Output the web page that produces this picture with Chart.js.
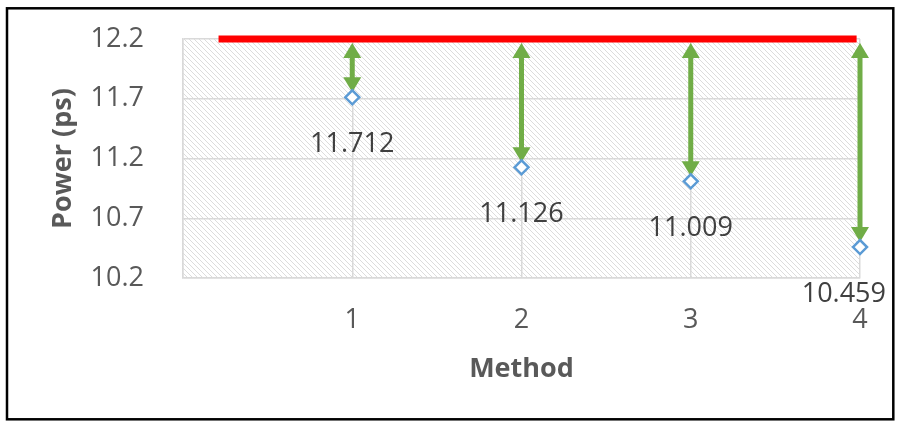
<!DOCTYPE html>
<html>
<head>
<meta charset="utf-8">
<script src="https://cdn.jsdelivr.net/npm/chart.js@4"></script>
<style>
  html, body { margin: 0; padding: 0; background: #ffffff; }
  #wrap { width: 899px; height: 428px; position: relative; }
</style>
</head>
<body>
<div id="wrap"><canvas id="c" width="899" height="428"></canvas></div>
<script>
// Measured power for each method, and the reference level they are compared to
const methods = [1, 2, 3, 4];
const powerValues = [11.712, 11.126, 11.009, 10.459];
const referencePower = 12.2;
const referenceSpan = [0.21, 3.98];
const yTickValues = [10.2, 10.7, 11.2, 11.7, 12.2];
const xTickValues = [0, 1, 2, 3, 4];

const FONT = '"Open Sans", "Segoe UI", "DejaVu Sans", sans-serif';
const GRID = '#d9d9d9';

// Light diagonal hatch used as the plot background
function makeHatch(ctx) {
  const t = document.createElement('canvas');
  t.width = 5; t.height = 5;
  const g = t.getContext('2d');
  g.fillStyle = '#ffffff';
  g.fillRect(0, 0, 5, 5);
  g.strokeStyle = '#dcdcdc';
  g.lineWidth = 1;
  g.beginPath();
  g.moveTo(-1, -1); g.lineTo(6, 6);
  g.moveTo(-1, 4); g.lineTo(1, 6);
  g.moveTo(4, -1); g.lineTo(6, 1);
  g.stroke();
  return ctx.createPattern(t, 'repeat');
}

const hatchPlugin = {
  id: 'hatch',
  beforeDraw(chart) {
    const { ctx, chartArea: a } = chart;
    ctx.save();
    ctx.fillStyle = makeHatch(ctx);
    ctx.fillRect(a.left, a.top, a.right - a.left, a.bottom - a.top);
    ctx.restore();
  }
};

// Double-headed arrows from the reference level down to each measurement
const arrowPlugin = {
  id: 'gapArrows',
  beforeDatasetsDraw(chart) {
    const { ctx, scales: { x, y } } = chart;
    const headLen = 15, headHalf = 9;
    ctx.save();
    ctx.fillStyle = '#70ad47';
    ctx.strokeStyle = '#70ad47';
    ctx.lineWidth = 5;
    methods.forEach((m, i) => {
      const px = x.getPixelForValue(m);
      const top = y.getPixelForValue(referencePower) + 4;
      const bot = y.getPixelForValue(powerValues[i]) - 5;
      ctx.beginPath();
      ctx.moveTo(px, top + headLen - 1);
      ctx.lineTo(px, bot - headLen + 1);
      ctx.stroke();
      ctx.beginPath();
      ctx.moveTo(px, top);
      ctx.lineTo(px + headHalf, top + headLen);
      ctx.lineTo(px - headHalf, top + headLen);
      ctx.closePath();
      ctx.fill();
      ctx.beginPath();
      ctx.moveTo(px, bot);
      ctx.lineTo(px + headHalf, bot - headLen);
      ctx.lineTo(px - headHalf, bot - headLen);
      ctx.closePath();
      ctx.fill();
    });
    ctx.restore();
  }
};

// Value labels under each marker, kept inside the frame
const labelPlugin = {
  id: 'valueLabels',
  afterDatasetsDraw(chart) {
    const { ctx, scales: { x, y } } = chart;
    ctx.save();
    ctx.font = '27px ' + FONT;
    ctx.fillStyle = '#404040';
    ctx.textAlign = 'center';
    ctx.textBaseline = 'middle';
    methods.forEach((m, i) => {
      const text = powerValues[i].toFixed(3);
      const w = ctx.measureText(text).width;
      let px = x.getPixelForValue(m);
      px = Math.min(px, 886 - w / 2);
      const py = y.getPixelForValue(powerValues[i]) + 47;
      ctx.fillText(text, px, py);
    });
    ctx.restore();
  }
};

const framePlugin = {
  id: 'frame',
  afterDraw(chart) {
    const { ctx } = chart;
    ctx.save();
    ctx.strokeStyle = '#000000';
    ctx.lineWidth = 2.5;
    ctx.strokeRect(7, 8.3, 886.3, 411);
    ctx.restore();
  }
};

new Chart(document.getElementById('c'), {
  type: 'scatter',
  data: {
    datasets: [
      {
        type: 'line',
        label: 'Reference',
        data: referenceSpan.map(v => ({ x: v, y: referencePower })),
        borderColor: '#ff0000',
        borderWidth: 7,
        pointRadius: 0,
        borderCapStyle: 'butt',
        clip: false,
        order: 2
      },
      {
        label: 'Power',
        data: methods.map((m, i) => ({ x: m, y: powerValues[i] })),
        pointStyle: 'rectRot',
        pointRadius: 7,
        pointBorderWidth: 2.5,
        pointBackgroundColor: '#ffffff',
        pointBorderColor: '#5b9bd5',
        clip: false,
        order: 1
      }
    ]
  },
  options: {
    responsive: false,
    animation: false,
    devicePixelRatio: 1,
    layout: { padding: { left: 0, top: 39, right: 39, bottom: 0 } },
    plugins: { legend: { display: false }, tooltip: { enabled: false } },
    scales: {
      x: {
        type: 'linear',
        min: 0, max: 4,
        afterBuildTicks(scale) { scale.ticks = xTickValues.map(v => ({ value: v })); },
        afterFit(scale) { scale.height = 150; scale.paddingLeft = 0; scale.paddingRight = 0; },
        grid: { color: GRID, lineWidth: 1.5, drawTicks: false },
        border: { color: GRID, width: 1.5 },
        ticks: {
          padding: 26,
          color: '#595959',
          font: { family: FONT, size: 27, lineHeight: 1.2 },
          callback: v => (v === 0 ? '' : String(v))
        },
        title: {
          display: true,
          text: 'Method',
          color: '#595959',
          font: { family: FONT, size: 27, weight: 'bold', lineHeight: 1.2 },
          padding: { top: 0, bottom: 42 }
        }
      },
      y: {
        type: 'linear',
        min: 10.2, max: 12.2,
        afterBuildTicks(scale) { scale.ticks = yTickValues.map(v => ({ value: v })); },
        afterFit(scale) { scale.width = 183; scale.paddingTop = 0; scale.paddingBottom = 0; },
        grid: { color: GRID, lineWidth: 1.5, drawTicks: false },
        border: { color: GRID, width: 1.5 },
        ticks: {
          padding: 39,
          color: '#595959',
          font: { family: FONT, size: 27, lineHeight: 1.2 },
          callback: v => Number(v).toFixed(1)
        },
        title: {
          display: true,
          text: 'Power (ps)',
          color: '#595959',
          font: { family: FONT, size: 27, weight: 'bold', lineHeight: 1.2 },
          padding: { top: 47, bottom: 0 }
        }
      }
    }
  },
  plugins: [hatchPlugin, arrowPlugin, labelPlugin, framePlugin]
});
</script>
</body>
</html>
